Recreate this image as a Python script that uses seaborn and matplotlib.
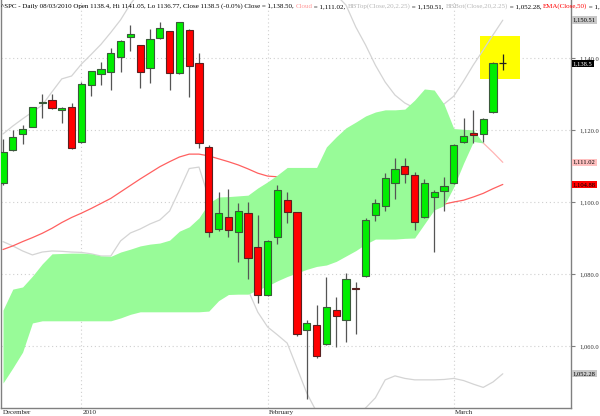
import numpy as np
import pandas as pd
import matplotlib
matplotlib.use("Agg")
import matplotlib.pyplot as plt
import matplotlib.transforms as mtransforms
from matplotlib.patches import Rectangle
import seaborn as sns

# ---------------- data ----------------
opens = [1105.2, 1114.4, 1118.8, 1120.9, 1127.4, 1128.2, 1125.5, 1126.5, 1116.6, 1132.4,
         1135.6, 1136.0, 1140.2, 1145.7, 1143.5, 1137.1, 1145.5, 1147.4, 1135.7, 1147.7,
         1138.5, 1115.4, 1092.4, 1095.8, 1091.8, 1096.9, 1087.6, 1074.1, 1090.2, 1100.5,
         1097.1, 1064.4, 1065.8, 1060.5, 1069.9, 1067.2, 1076.0, 1079.4, 1096.3, 1099.0,
         1105.4, 1110.0, 1107.4, 1095.9, 1101.3, 1103.1, 1105.2, 1116.8, 1119.3, 1119.0,
         1125.0, 1138.4]
highs = [1117.4, 1120.0, 1121.4, 1126.5, 1130.0, 1130.0, 1126.4, 1127.4, 1133.4, 1136.5,
         1138.8, 1142.7, 1145.0, 1149.2, 1143.7, 1148.1, 1149.9, 1147.6, 1150.1, 1148.0,
         1141.3, 1115.8, 1102.9, 1103.5, 1099.6, 1100.0, 1096.4, 1089.5, 1104.7, 1102.7,
         1097.3, 1067.2, 1071.4, 1079.3, 1073.7, 1080.2, 1077.7, 1095.6, 1100.8, 1108.1,
         1112.1, 1112.1, 1108.4, 1106.3, 1103.4, 1107.0, 1116.1, 1123.2, 1125.6, 1123.2,
         1139.0, 1141.05]
lows = [1104.8, 1114.2, 1116.0, 1120.7, 1123.4, 1125.8, 1121.9, 1114.8, 1116.3, 1129.5,
        1132.4, 1131.1, 1136.0, 1142.0, 1131.6, 1133.0, 1145.3, 1131.1, 1135.5, 1129.3,
        1114.9, 1090.4, 1092.0, 1090.4, 1083.4, 1078.7, 1071.9, 1073.9, 1088.2, 1094.1,
        1062.8, 1045.2, 1056.8, 1060.3, 1059.8, 1061.0, 1063.3, 1079.2, 1094.8, 1097.6,
        1100.8, 1105.4, 1092.2, 1095.6, 1086.2, 1097.6, 1105.0, 1116.5, 1116.5, 1116.8,
        1124.8, 1136.77]
closes = [1113.8, 1118.0, 1120.4, 1126.3, 1127.8, 1126.0, 1126.2, 1115.0, 1132.7, 1136.3,
          1136.9, 1141.3, 1144.7, 1146.7, 1136.0, 1145.4, 1148.3, 1135.8, 1149.9, 1137.8,
          1116.3, 1091.8, 1096.9, 1092.1, 1097.4, 1084.5, 1074.1, 1089.3, 1103.2, 1097.1,
          1063.4, 1066.3, 1057.1, 1070.8, 1068.3, 1078.5, 1075.8, 1094.9, 1099.6, 1106.6,
          1109.1, 1107.9, 1094.5, 1105.2, 1102.9, 1104.4, 1115.7, 1118.3, 1118.7, 1123.0,
          1138.5, 1138.5]
ema50 = [1086.8, 1087.8, 1089.0, 1090.1, 1091.3, 1092.7, 1094.3, 1095.7, 1096.9, 1098.2,
         1099.6, 1101.0, 1102.8, 1104.6, 1106.4, 1108.1, 1109.8, 1111.2, 1112.5, 1113.3,
         1113.3, 1112.8, 1112.0, 1111.2, 1110.3, 1109.2, 1108.0, 1107.2, 1107.0, 1106.8,
         1105.6, 1104.4, 1103.2, 1102.3, 1101.4, 1100.8, 1100.2, 1100.0, 1099.8, 1099.7,
         1099.6, 1099.6, 1099.4, 1099.4, 1099.3, 1099.4, 1100.0, 1100.5, 1101.4, 1102.4,
         1103.7, 1104.88]
bb_top = [1118.9, 1121.1, 1123.1, 1125.0, 1126.9, 1130.6, 1134.2, 1135.0, 1138.3, 1141.0,
          1143.8, 1147.1, 1150.6, 1155.0, 1158.5, 1161.0, 1163.0, 1164.5, 1165.0, 1165.0,
          1166.0, 1168.0, 1170.0, 1171.0, 1171.5, 1172.0, 1172.0, 1171.0, 1169.0, 1167.0,
          1166.0, 1164.0, 1162.0, 1160.0, 1157.5, 1154.7, 1148.6, 1143.6, 1138.0, 1133.3,
          1129.7, 1127.5, 1126.1, 1126.1, 1126.4, 1127.2, 1129.4, 1133.6, 1138.1, 1142.2,
          1146.4, 1150.51]
bb_bot = [1089.0, 1087.8, 1086.4, 1085.3, 1086.1, 1086.4, 1086.3, 1086.1, 1086.0, 1085.6,
          1085.0, 1085.0, 1089.2, 1091.4, 1092.5, 1093.9, 1095.0, 1097.5, 1103.3, 1109.3,
          1109.7, 1101.1, 1093.6, 1086.7, 1080.6, 1075.6, 1069.4, 1065.3, 1063.1, 1060.8,
          1053.9, 1046.9, 1041.7, 1038.1, 1036.7, 1037.2, 1040.0, 1042.8, 1045.6, 1050.6,
          1051.7, 1051.0, 1050.6, 1050.6, 1050.6, 1050.7, 1051.0, 1050.4, 1049.4, 1048.5,
          1050.0, 1052.28]
cloud_top = [1070.0, 1075.8, 1076.4, 1079.4, 1082.8, 1085.6, 1085.7, 1085.8, 1085.8, 1085.6,
             1085.0, 1084.9, 1086.1, 1086.9, 1087.8, 1088.3, 1088.6, 1089.4, 1091.9, 1093.1,
             1095.6, 1099.7, 1101.4, 1101.5, 1101.7, 1101.9, 1103.9, 1105.6, 1107.5, 1109.6,
             1109.6, 1109.6, 1109.6, 1115.3, 1118.1, 1120.6, 1122.2, 1123.9, 1125.0, 1125.6,
             1125.6, 1125.8, 1128.3, 1131.4, 1131.1, 1127.2, 1120.4, 1120.2, 1120.0, 1116.4]
cloud_bot = [1049.7, 1053.9, 1058.3, 1066.4, 1067.0, 1067.0, 1067.0, 1067.0, 1067.0, 1067.0,
             1067.0, 1067.0, 1067.8, 1068.8, 1069.5, 1069.5, 1069.5, 1069.5, 1069.5, 1069.5,
             1069.5, 1069.7, 1072.6, 1074.3, 1074.4, 1074.4, 1075.6, 1076.7, 1078.1, 1079.3,
             1080.3, 1081.3, 1082.1, 1082.5, 1083.5, 1085.0, 1086.5, 1088.3, 1089.7, 1089.7,
             1089.7, 1089.9, 1090.0, 1093.9, 1097.8, 1099.0, 1104.2, 1110.8, 1116.8, 1116.4]
cloud_line = [1116.4, 1113.8, 1111.02]          # trailing cloud line, last three sessions
y_ticks = [1060, 1080, 1100, 1120, 1140]
y_tick_labels = ["1,060.0", "1,080.0", "1,100.0", "1,120.0", "1,140.0"]
month_labels = ["December", "2010", "February", "March"]
month_index = [None, 8, 27, 46]               # first session of each month (Jan 4, Feb 1, Mar 1)
title_parts = [("^SPC - Daily 08/03/2010 Open 1138.4, Hi 1141.05, Lo 1136.77, Close 1138.5 (-0.0%) Close = 1,138.50, ", "#000000"),
               ("Cloud", "#ff9a9a"), (" = 1,111.02, ", "#000000"),
               ("BBTop(Close,20,2.25)", "#b8b8b8"), (" = 1,150.51, ", "#000000"),
               ("BBBot(Close,20,2.25)", "#b8b8b8"), (" = 1,052.28, ", "#000000"),
               ("EMA(Close,50)", "#ff0000"), (" = 1,104.88", "#000000")]
value_boxes = [(1150.51, "1,150.51", "#c8c8c8", "#000000"),
               (1138.5, "1,138.5", "#000000", "#ffffff"),
               (1111.02, "1,111.02", "#ffc0c0", "#000000"),
               (1104.88, "1,104.88", "#ff0000", "#000000"),
               (1052.28, "1,052.28", "#c8c8c8", "#000000")]

# ---------------- style ----------------
sns.set_style("white")
plt.rcParams['font.family'] = ['Liberation Serif', 'DejaVu Serif']

W, H = 600, 416
fig = plt.figure(figsize=(W / 100, H / 100), dpi=100)
ax_l, ax_r, ax_b, ax_t = 1, 571, 408, 0   # pixel frame
ax = fig.add_axes([ax_l / W, (H - ax_b) / H, (ax_r - ax_l) / W, (ax_b - ax_t) / H])

step = 9.8
x0 = 3.0
ax.set_xlim((ax_l - x0) / step, (ax_r - x0) / step)
ax.set_ylim(1140 - (ax_b - 58) / 3.6, 1140 + 58 / 3.6)

idx = np.arange(len(closes))
ci = np.arange(len(cloud_top))

# grid
for v in y_ticks:
    ax.axhline(v, color="#cfcfcf", lw=0.8, ls=(0, (1, 2.5)), zorder=0)
for m in month_index:
    if m is not None:
        ax.axvline(m, color="#cfcfcf", lw=0.8, ls=(0, (1, 2.5)), zorder=0)

# yellow highlight
ax.add_patch(Rectangle(((480 - x0) / step, 1140 - (79.3 - 58) / 3.6), 40 / step, 43.3 / 3.6,
                       facecolor="#ffff00", edgecolor="none", zorder=0.5))

# lines under the cloud
line_df = pd.DataFrame({"i": idx, "ema": ema50, "top": bb_top, "bot": bb_bot})
sns.lineplot(data=line_df, x="i", y="top", ax=ax, color="#d4d4d4", lw=0.9, zorder=1, legend=False)
sns.lineplot(data=line_df, x="i", y="bot", ax=ax, color="#d4d4d4", lw=0.9, zorder=1, legend=False)
sns.lineplot(data=line_df, x="i", y="ema", ax=ax, color="#ff6060", lw=0.9, zorder=1, legend=False)
sns.lineplot(x=idx[-3:], y=cloud_line, ax=ax, color="#ffb4b4", lw=0.9, zorder=1, legend=False)

# cloud
ax.fill_between(ci, cloud_bot, cloud_top, color="#98fb98", lw=0, zorder=2)

# candles
for i in idx:
    o, h, l, c = opens[i], highs[i], lows[i], closes[i]
    if i == len(idx) - 1:
        ax.vlines(i, l, h, color="#202020", lw=0.9, zorder=4)
        ax.hlines(c, i - 0.36, i + 0.36, color="#202020", lw=0.9, zorder=4)
        continue
    up = c >= o
    ax.vlines(i, l, h, color="#555555", lw=0.9, zorder=3)
    bottom = min(o, c)
    height = max(abs(c - o), 0.35)
    ax.bar(i, height, bottom=bottom, width=0.72,
           color="#00ee00" if up else "#ff0000",
           edgecolor="#3a5a3a" if up else "#5a2020", linewidth=0.8, zorder=4)

# axes frame
ax.spines["top"].set_visible(False)
for s in ["left", "right", "bottom"]:
    ax.spines[s].set_color("#808080")
    ax.spines[s].set_linewidth(1.0)

ax.yaxis.tick_right()
ax.set_yticks(y_ticks)
ax.set_yticklabels(y_tick_labels)
ax.tick_params(axis="y", direction="out", length=3, width=0.8, color="#808080",
               labelsize=4.7, labelcolor="#333333", pad=3.2)
ax.set_xticks([m for m in month_index if m is not None])
ax.set_xticklabels([])
ax.tick_params(axis="x", direction="out", length=3, width=0.8, color="#808080")
ax.set_xlabel("")
ax.set_ylabel("")

# month labels
trans_x = mtransforms.blended_transform_factory(ax.transData, ax.transAxes)
for lab, m in zip(month_labels, month_index):
    pos = (ax_l + 2 - x0) / step if m is None else m + 0.1
    ax.text(pos, -0.004, lab, transform=trans_x, ha="left", va="top", fontsize=5.0, color="#222222")

# value boxes on the right axis
trans_y = mtransforms.blended_transform_factory(ax.transAxes, ax.transData)
for v, lab, fc, tc in value_boxes:
    ax.text(1.003, v, lab, transform=trans_y, ha="left", va="center", fontsize=4.7, color=tc,
            bbox=dict(boxstyle="square,pad=0.18", fc=fc, ec="none"), zorder=10, clip_on=False)

# title line built from coloured pieces
fig.canvas.draw()
r = fig.canvas.get_renderer()
xp = 1.0
for txt, col in title_parts:
    t = fig.text(xp / W, 1 - 6.5 / H, txt, color=col, fontsize=5.0, ha="left", va="center")
    bb = t.get_window_extent(renderer=r)
    xp = bb.x1

fig.savefig("out.png", dpi=100)
